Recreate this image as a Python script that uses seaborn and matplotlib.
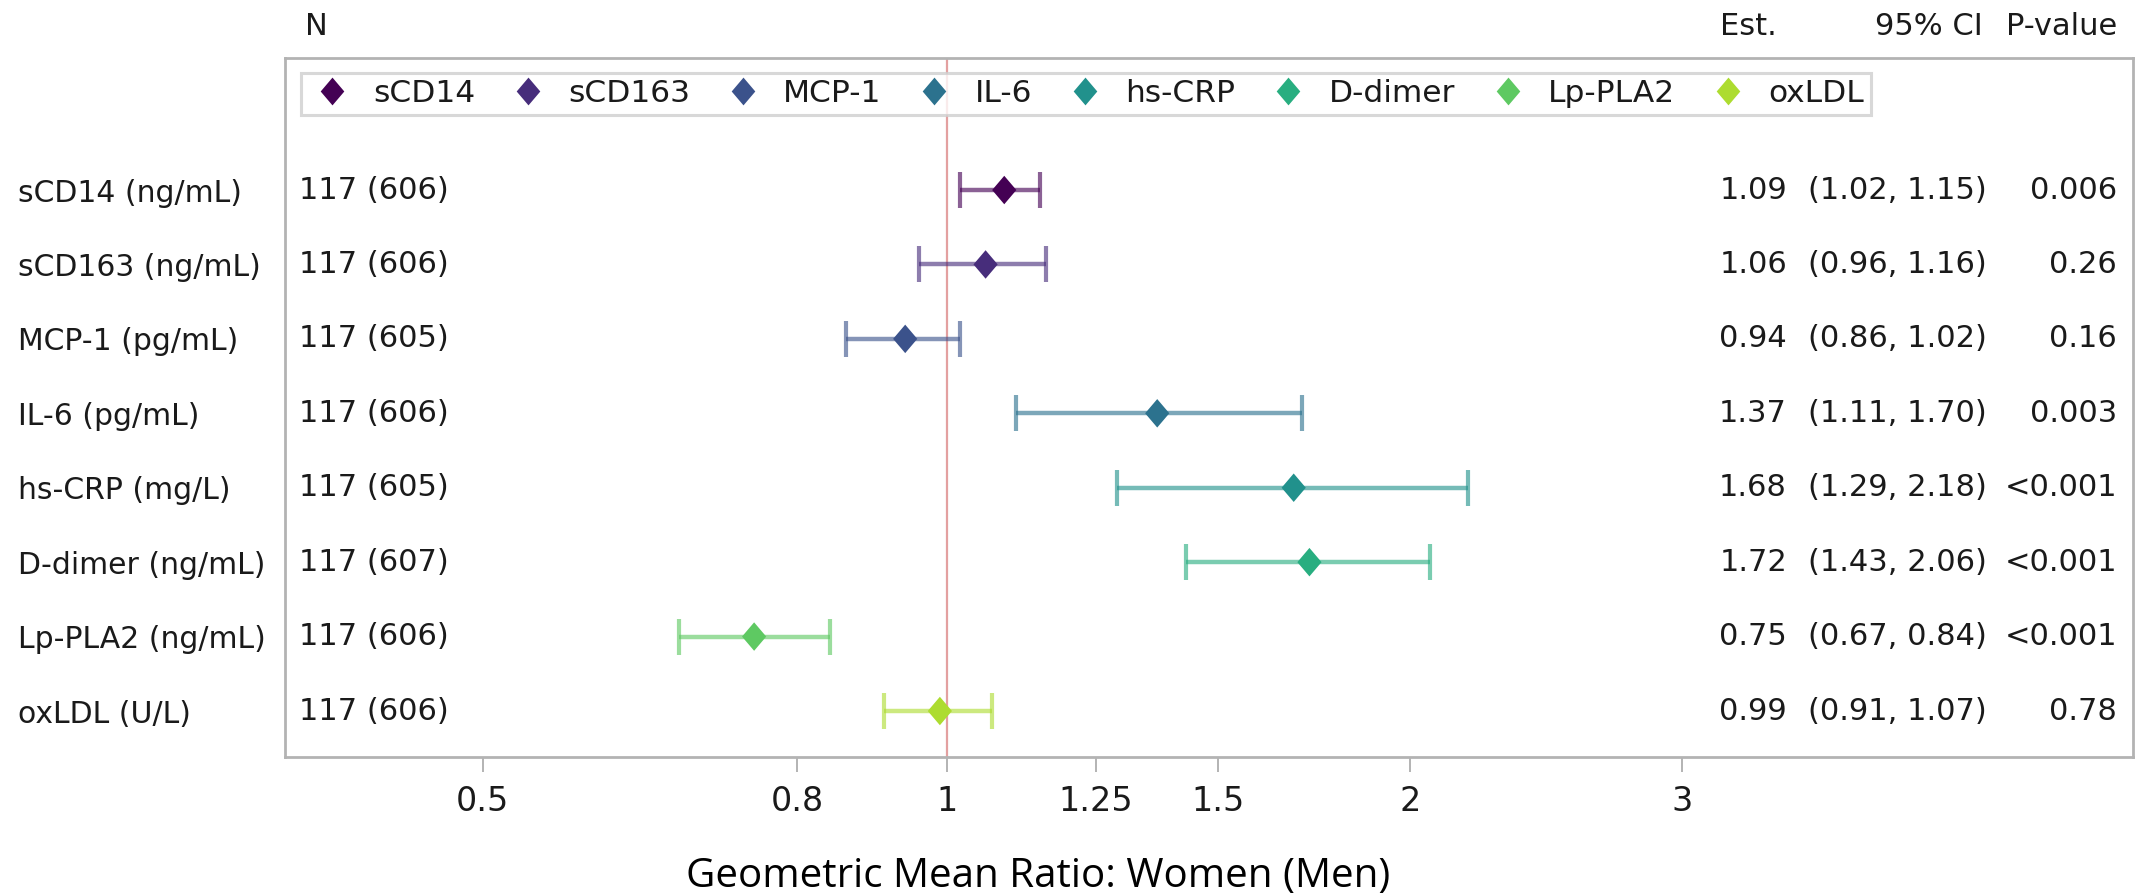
import numpy as np
import pandas as pd
import matplotlib
matplotlib.use("Agg")
import matplotlib.pyplot as plt
from matplotlib.path import Path
from matplotlib.lines import Line2D
from matplotlib.ticker import NullLocator, FixedLocator, FixedFormatter
import seaborn as sns

# ---------------- data ----------------
short_names = ["sCD14", "sCD163", "MCP-1", "IL-6", "hs-CRP", "D-dimer", "Lp-PLA2", "oxLDL"]
row_labels = ["sCD14 (ng/mL)", "sCD163 (ng/mL)", "MCP-1 (pg/mL)", "IL-6 (pg/mL)",
              "hs-CRP (mg/L)", "D-dimer (ng/mL)", "Lp-PLA2 (ng/mL)", "oxLDL (U/L)"]
n_labels = ["117 (606)", "117 (606)", "117 (605)", "117 (606)",
            "117 (605)", "117 (607)", "117 (606)", "117 (606)"]
estimates = [1.09, 1.06, 0.94, 1.37, 1.68, 1.72, 0.75, 0.99]
ci_low = [1.02, 0.96, 0.86, 1.11, 1.29, 1.43, 0.67, 0.91]
ci_high = [1.15, 1.16, 1.02, 1.70, 2.18, 2.06, 0.84, 1.07]
p_values = ["0.006", "0.26", "0.16", "0.003", "<0.001", "<0.001", "<0.001", "0.78"]
x_ticks = [0.5, 0.8, 1, 1.25, 1.5, 2, 3]
x_tick_labels = ["0.5", "0.8", "1", "1.25", "1.5", "2", "3"]
x_label = "Geometric Mean Ratio: Women (Men)"

df = pd.DataFrame({"name": short_names, "label": row_labels, "est": estimates,
                   "lo": ci_low, "hi": ci_high})

# ---------------- style ----------------
sns.set_style("white")
plt.rcParams["font.family"] = ["DejaVu Sans"]
TXT = "#1a1a1a"
GRAY = "#b3b3b3"

W, H = 2141, 896
fig = plt.figure(figsize=(W / 100, H / 100), dpi=100)
ax_l, ax_r, ax_t, ax_b = 285, 2133, 58, 757
ax = fig.add_axes([ax_l / W, 1 - ax_b / H, (ax_r - ax_l) / W, (ax_b - ax_t) / H])

cmap = plt.get_cmap("viridis")
colors = [cmap(v) for v in np.linspace(0, 0.875, len(short_names))]
pal = dict(zip(short_names, colors))

diamond = Path([(0, 1), (0.85, 0), (0, -1), (-0.85, 0), (0, 1)], closed=True)

# reference line
ax.axvline(1, color="#e3a0a0", lw=1.6, zorder=1)

# CI bars
pos = np.arange(len(df))
for i, r in df.iterrows():
    ax.errorbar(r["est"], pos[i], xerr=[[r["est"] - r["lo"]], [r["hi"] - r["est"]]],
                fmt="none", ecolor=pal[r["name"]], alpha=0.62, elinewidth=3.2,
                capsize=13, capthick=3.0, zorder=2)

sns.scatterplot(data=df, x="est", y="label", hue="name", palette=pal,
                marker=diamond, s=20.5 ** 2, edgecolor="none", linewidth=0,
                legend=False, zorder=3, ax=ax)

ax.set_xscale("log")
ax.set_xlim(0.372, 5.89)
ax.set_ylim(7.618, -1.774)
ax.xaxis.set_major_locator(FixedLocator(x_ticks))
ax.xaxis.set_major_formatter(FixedFormatter(x_tick_labels))
ax.xaxis.set_minor_locator(NullLocator())
ax.set_xlabel("")
ax.set_ylabel("")

for s in ax.spines.values():
    s.set_color(GRAY)
    s.set_linewidth(2.0)
    s.set_visible(True)

ax.tick_params(axis="x", direction="out", length=11, width=1.4, color=GRAY,
               labelsize=24, labelcolor=TXT, pad=9, bottom=True)
ax.set_yticks(pos)
ax.set_yticklabels(row_labels)
ax.tick_params(axis="y", length=0, labelsize=21.5, labelcolor=TXT,
               pad=(ax_l - 18) * 0.72)
for t in ax.get_yticklabels():
    t.set_horizontalalignment("left")

# table columns
tr = ax.get_yaxis_transform()
def fx(px):
    return (px - ax_l) / (ax_r - ax_l)

cell = dict(fontsize=22, color=TXT, va="center", transform=tr, clip_on=False)
for i in range(len(df)):
    ax.text(fx(299), pos[i], n_labels[i], ha="left", **cell)
    ax.text(fx(1787), pos[i], f"{estimates[i]:.2f}", ha="right", **cell)
    ax.text(fx(1987), pos[i], f"({ci_low[i]:.2f}, {ci_high[i]:.2f})", ha="right", **cell)
    ax.text(fx(2117), pos[i], p_values[i], ha="right", **cell)

hy = -1.774 - (ax_t - 26) / 74.43
ax.text(fx(305), hy, "N", ha="left", **cell)
ax.text(fx(1720), hy, "Est.", ha="left", **cell)
ax.text(fx(1983), hy, "95% CI", ha="right", **cell)
ax.text(fx(2117), hy, "P-value", ha="right", **cell)

# legend
handles = [Line2D([], [], linestyle="none", marker=diamond, markersize=20,
                  markerfacecolor=pal[n], markeredgecolor="none") for n in short_names]
leg = ax.legend(handles, short_names, ncol=len(short_names), loc="upper left",
                bbox_to_anchor=(fx(301), (ax_b - 73) / (ax_b - ax_t)),
                borderaxespad=0, fontsize=22.5, frameon=True, fancybox=False,
                borderpad=0.2, handlelength=1.6, handletextpad=0.5,
                columnspacing=0.88, labelcolor=TXT)
leg.get_frame().set_edgecolor("#cfcfcf")
leg.get_frame().set_linewidth(2.2)

fig.text(1038 / W, 1 - 877 / H, x_label, family="Open Sans", fontsize=29,
         color="black", ha="center", va="center")

fig.savefig("out.png", dpi=100, facecolor="white")
